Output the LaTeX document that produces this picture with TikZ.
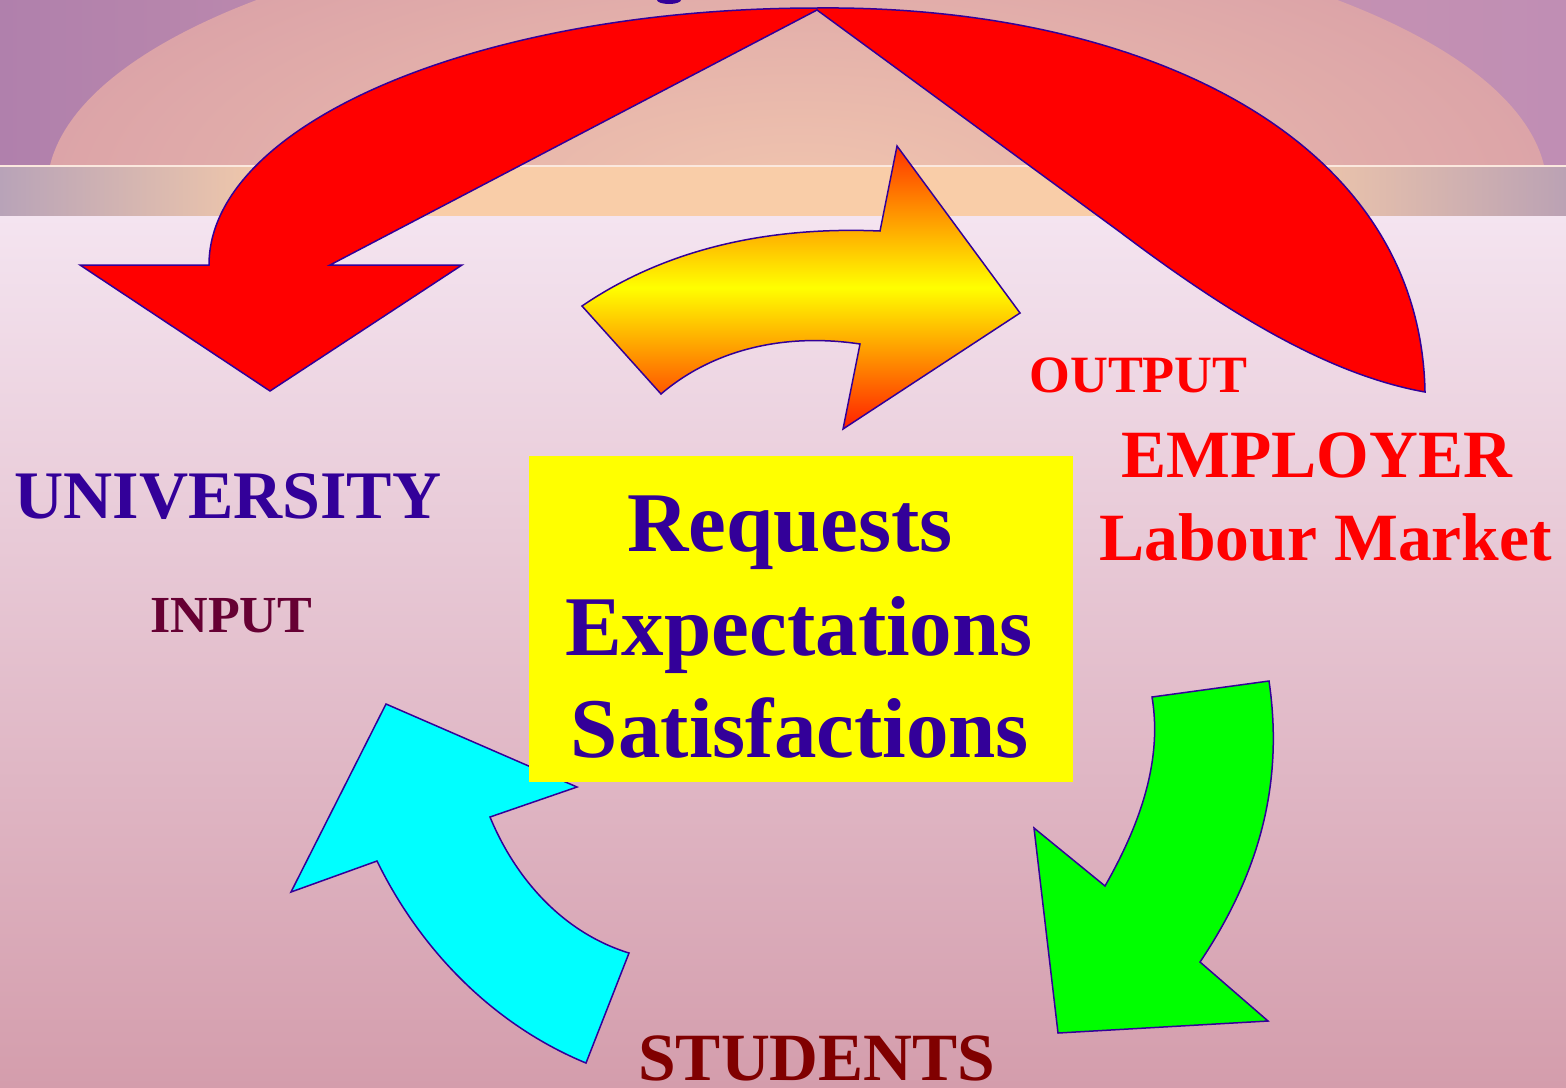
\documentclass[tikz,border=0pt]{standalone}
\usepackage{fontspec}
\setmainfont{Liberation Serif}
\definecolor{ink}{HTML}{330099}
\definecolor{inputc}{HTML}{660033}
\definecolor{studc}{HTML}{800000}
\definecolor{redc}{HTML}{FF0000}
\definecolor{topL}{HTML}{B080AC}
\definecolor{topM}{HTML}{CE98AE}
\definecolor{topR}{HTML}{C08EB4}
\definecolor{domeIn}{HTML}{F0C4AE}
\definecolor{domeOut}{HTML}{DCA4A8}
\definecolor{wline}{HTML}{FBE8DE}
\definecolor{bandE}{HTML}{B8A3B8}
\definecolor{bandM}{HTML}{F9CDA8}
\definecolor{bandEE}{HTML}{BBA2B4}
\definecolor{lowT}{HTML}{F4E4F0}
\definecolor{lowB}{HTML}{D49DAC}
\definecolor{orTop}{HTML}{FF3300}
\definecolor{orBot}{HTML}{FF2000}
\definecolor{cyanc}{HTML}{00FFFF}
\definecolor{greenc}{HTML}{00FF00}
\definecolor{yelc}{HTML}{FFFF00}
\begin{document}
\begin{tikzpicture}[x=0.5pt,y=-0.5pt,
  outl/.style={draw=ink,line width=0.75pt,line join=miter},
  lbl/.style={inner sep=0pt},
  bigred/.style={lbl,text=redc,font=\bfseries\fontsize{33.8}{40}\selectfont},
  smallred/.style={lbl,text=redc,font=\bfseries\fontsize{26.2}{31}\selectfont},
  boxtxt/.style={lbl,text=ink,font=\bfseries\fontsize{42.5}{51}\selectfont,anchor=base},
]
\useasboundingbox (0,0) rectangle (1566,1087);
% ---------- background ----------
\shade[left color=topL,right color=topR,middle color=topM] (0,0) rectangle (1566,166);
\begin{scope}
  \clip (0,0) rectangle (1566,165);
  \shade[inner color=domeIn,outer color=domeOut] (797,190) ellipse [x radius=750,y radius=274];
\end{scope}
\fill[wline] (0,165) rectangle (1566,167.5);
\shade[left color=bandE,right color=bandM] (0,167) rectangle (301,216);
\fill[bandM] (300,167) rectangle (1251,216);
\shade[left color=bandM,right color=bandEE] (1250,167) rectangle (1566,216);
\shade[top color=lowT,bottom color=lowB] (0,216) rectangle (1566,1087);
\fill[ink] (669,0) ellipse [x radius=12,y radius=4];
% ---------- red arc arrow ----------
\draw[outl,fill=redc] (817,8) .. controls (1130,5) and (1420,130) .. (1425,392)
  .. controls (1330,375) and (1230,315) .. (1120,232) -- (817,10) -- (330,265)
  -- (462,265) -- (270,391) -- (80,265) -- (209,265)
  .. controls (209,123) and (481,8) .. (817,8) -- cycle;
% ---------- orange arrow ----------
\shadedraw[outl,top color=orTop,bottom color=orBot,middle color=yelc]
  (582,306) .. controls (645,263) and (740,225) .. (880,231) -- (897,146) -- (1020,313)
  -- (843,429) -- (860,344) .. controls (780,332) and (710,352) .. (661,394) -- cycle;
% ---------- cyan arrow ----------
\draw[outl,fill=cyanc] (386,704) -- (577,787) -- (490,817)
  .. controls (516,880) and (564,933) .. (629,953) -- (586,1063)
  .. controls (494,1025) and (421,951) .. (377,861) -- (291,892) -- cycle;
% ---------- green arrow ----------
\draw[outl,fill=greenc] (1152,697) -- (1269,681)
  .. controls (1285,790) and (1255,880) .. (1200,962) -- (1268,1021) -- (1058,1033)
  -- (1034,828) -- (1105,886) .. controls (1138,828) and (1163,763) .. (1152,697) -- cycle;
% ---------- central box ----------
\node[name=box,fill=yelc,minimum width=272pt,minimum height=163pt,inner sep=0pt,anchor=north west] at (529,456) {};
\node[boxtxt] (req) at (790,551) {Requests};
\node[boxtxt] (exp) at (799,655) {Expectations};
\node[boxtxt] (sat) at (800,757) {Satisfactions};
% ---------- labels ----------
\node[lbl,text=ink,font=\bfseries\fontsize{34}{40}\selectfont,anchor=base west] (univ) at (14,518) {UNIVERSITY};
\node[lbl,text=inputc,font=\bfseries\fontsize{26}{31}\selectfont,anchor=base west] (input) at (150,632) {INPUT};
\node[smallred,anchor=base west] (output) at (1029,392) {OUTPUT};
\node[bigred,anchor=base west] (empl) at (1121,477) {EMPLOYER};
\node[bigred,anchor=base west] (labour) at (1099,560) {Labour Market};
\node[lbl,text=studc,font=\bfseries\fontsize{33.8}{40}\selectfont,anchor=base west] (stud) at (638,1080) {STUDENTS};
\end{tikzpicture}
\end{document}
